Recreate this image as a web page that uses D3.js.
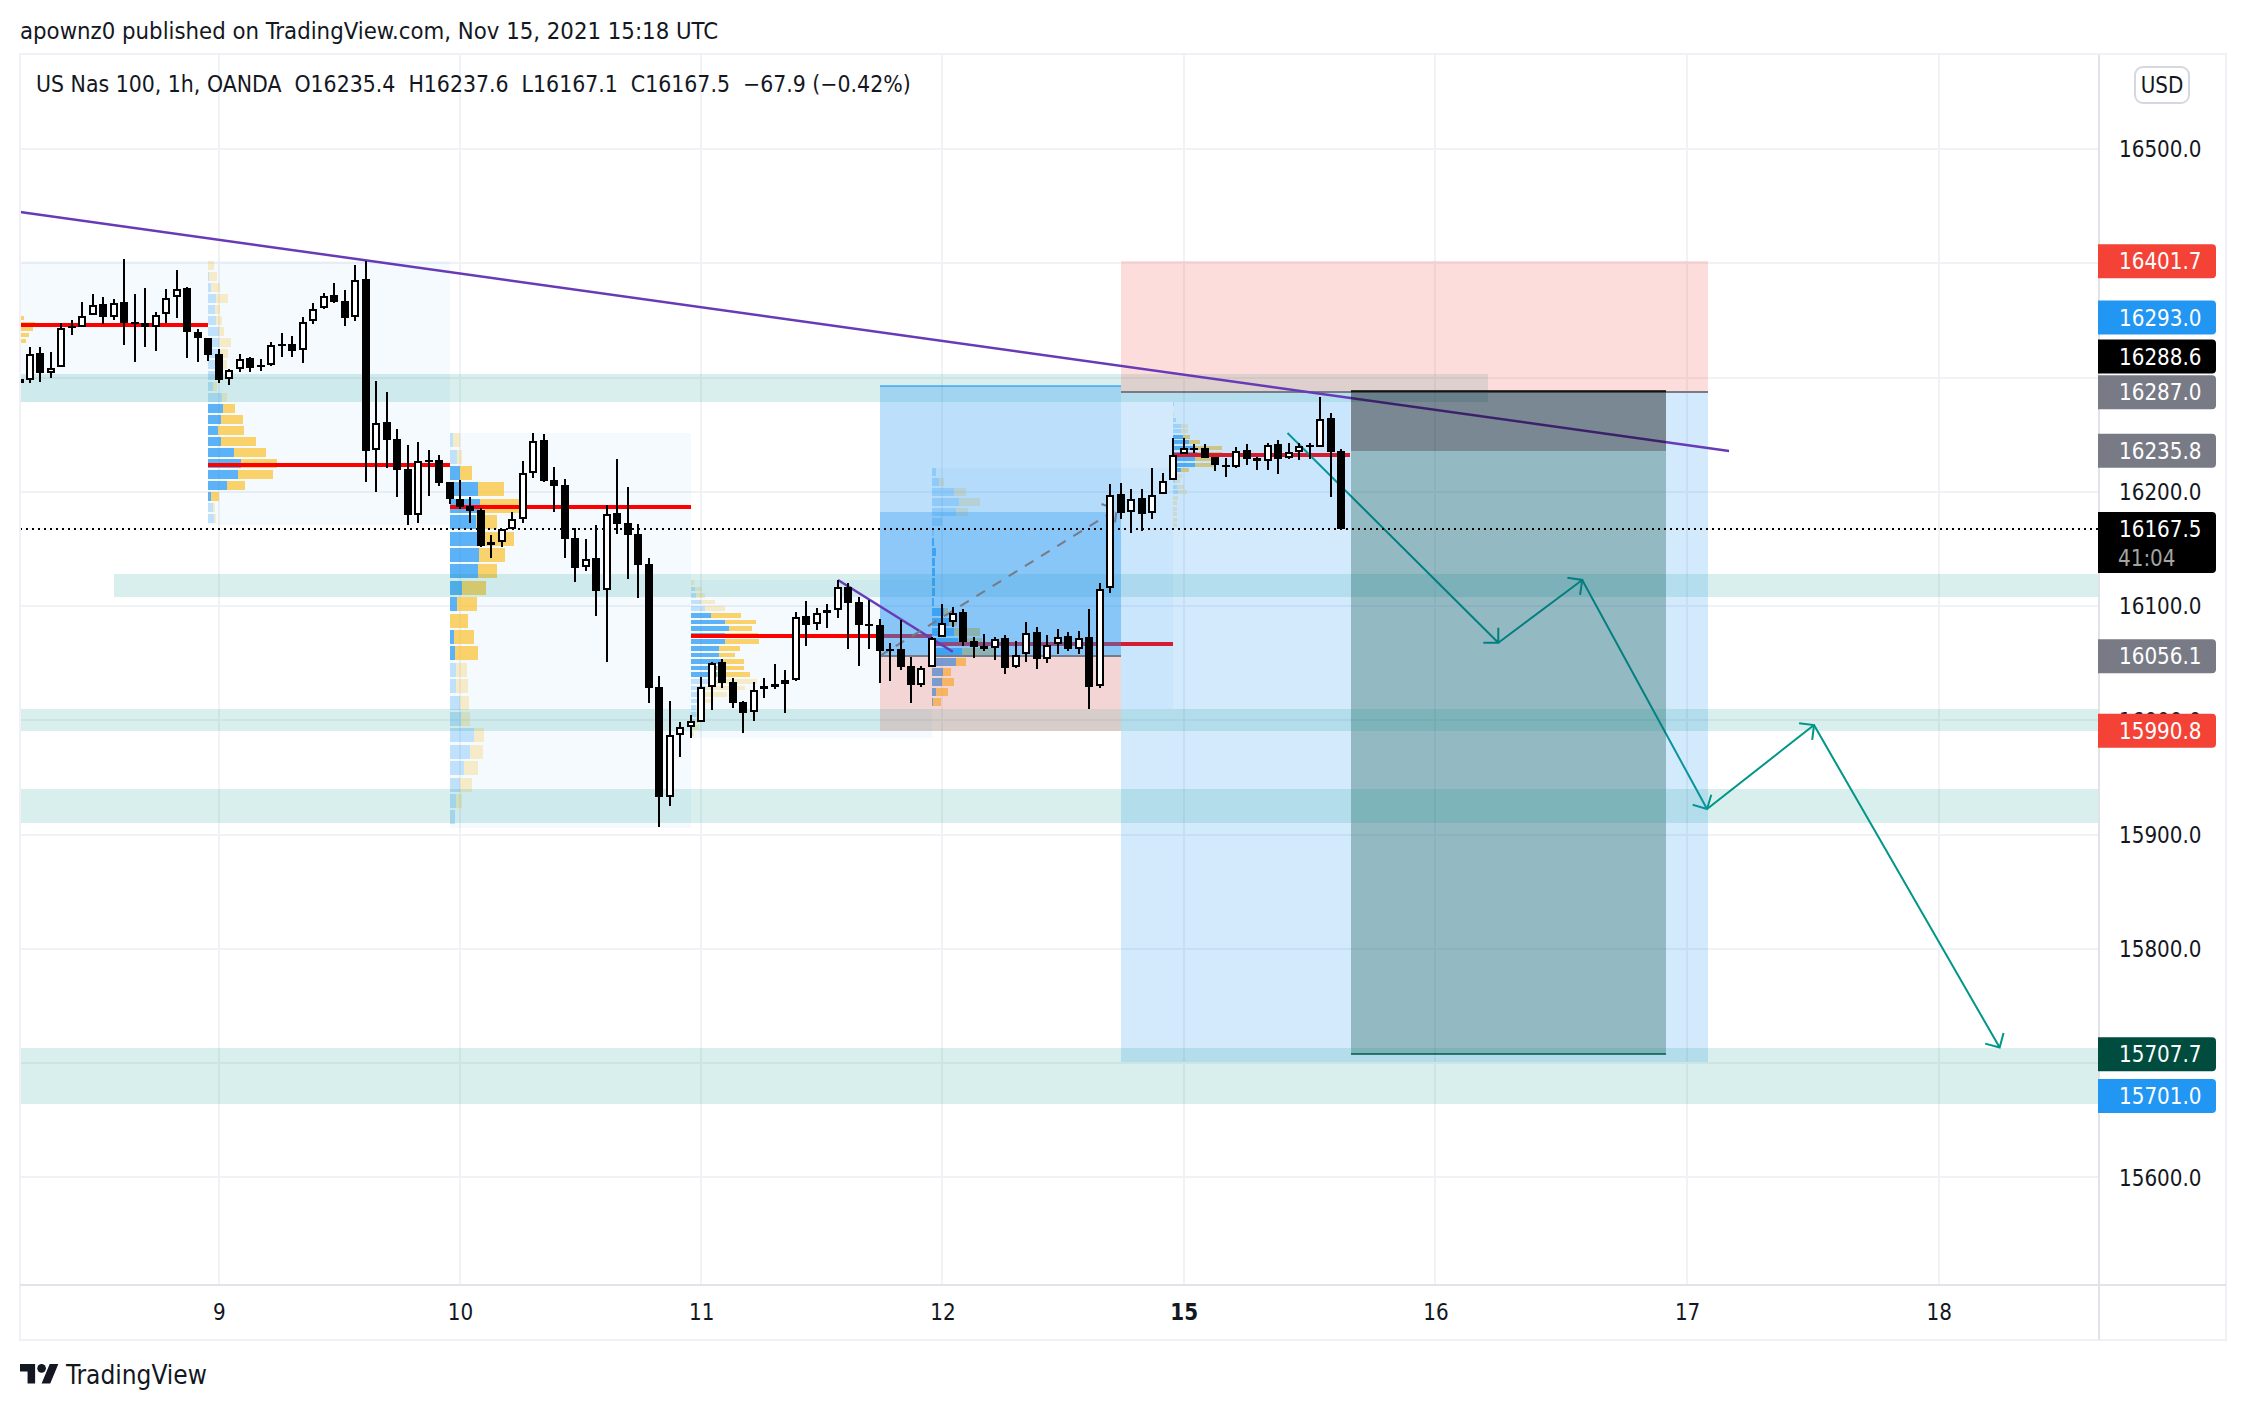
<![CDATA[<!DOCTYPE html>
<html><head><meta charset="utf-8">
<script src="https://cdn.jsdelivr.net/npm/d3@7/dist/d3.min.js"></script>
<style>html,body{margin:0;padding:0;background:#fff}svg{display:block}text{white-space:pre}</style>
</head><body><div id="chart"></div>
<script>
// ---- candle data, first bar is index -1 (clipped by the left edge) ----
const candleOpen=[16299,16297.8,16321.1,16303.6,16308.9,16345.1,16344.5,16354.4,16364.3,16353.2,16365.8,16348.3,16347.4,16343.9,16355.3,16370.2,16378,16339.5,16334.3,16320.3,16298.7,16307.1,16316.8,16310.9,16310.9,16329.3,16329,16324.1,16349.4,16360.8,16371.9,16366.7,16352.7,16385.9,16236.2,16260.8,16245.9,16219.6,16179.3,16228.1,16227.5,16208.2,16193.9,16187.2,16184,16156,16155.7,16167.4,16175.9,16216.1,16245.3,16210.3,16205.6,16159.2,16133.8,16142,16113.7,16181.1,16172.4,16162.7,16136.5,16028.8,15933.1,15986.8,15993.8,15998.8,16028.8,16050.7,16033.2,16015.7,16006.9,16029.7,16031.4,16031.4,16034.9,16091,16083.9,16096.5,16096.5,16116.9,16103.2,16083.9,16083.1,16062.1,16062.1,16047.2,16031.2,16046.4,16072.6,16085.7,16094.5,16069.1,16064.7,16063.3,16071.7,16046.4,16057.7,16077,16053.4,16066.5,16073.5,16062.1,16072.6,16029.7,16115.5,16197.8,16182,16194.3,16181.1,16197.8,16210,16233.1,16238,16238,16230.2,16223.7,16221.4,16236.3,16229.6,16226.9,16241.5,16229.3,16235.1,16240.7,16239.2,16264.3,16235.4];
const candleHigh=[16301,16327,16326.4,16322,16347.4,16350.3,16365.8,16373.1,16370.2,16368.4,16403.7,16373.1,16378.3,16357,16377.2,16394.1,16378.9,16342.2,16334.3,16324.6,16307.4,16320.6,16318.2,16315.9,16330.8,16338.7,16336.3,16352.7,16364.9,16373.7,16382.7,16376.6,16398.5,16402.3,16296.9,16287,16254.9,16240.9,16243.5,16236.5,16232.2,16208.5,16210.3,16195.1,16185.5,16161.9,16167.7,16182,16226.6,16251.1,16250.5,16221.7,16210.9,16168,16158.3,16170.9,16188.1,16228.4,16203.9,16171.5,16141.7,16038.4,16016.6,15998.2,16004.3,16037.6,16050.7,16053.3,16036.7,16016.8,16033.8,16036.7,16048.9,16043.7,16095,16104.1,16098,16101.5,16122.8,16119.8,16108.2,16105.2,16088.3,16067.4,16087.8,16055.1,16047.8,16073.2,16101.8,16098.9,16097.1,16072.6,16075.2,16073.2,16074.4,16069.1,16085.7,16081.7,16074.4,16079.6,16077,16077.9,16097.4,16119.9,16206.8,16207.4,16202.1,16202.1,16220.5,16216.2,16246.8,16246.8,16241.5,16241.5,16230.2,16229.3,16238.9,16241.5,16230.2,16242.4,16245,16242.4,16242.4,16242.4,16282.7,16268.7,16237.6];
const candleLow=[16294,16295.5,16296.3,16299.9,16308.9,16337.2,16344.5,16354.4,16346.8,16350.3,16328.4,16313.6,16327,16323.2,16347.4,16352.1,16317.1,16313.6,16314.7,16295.5,16293.4,16304.8,16304.8,16305.7,16310.4,16318.2,16317.9,16313,16347.1,16360.2,16365.5,16345.1,16349.7,16208.8,16199.8,16221.1,16195.7,16170.9,16172.9,16196.3,16205,16189.3,16185.2,16172.9,16151.9,16142.3,16151.9,16167.4,16172.9,16212.3,16208.8,16182.3,16142.3,16121.3,16130.9,16091.5,16051.3,16163,16123.9,16107.3,16015.4,15906.9,15925.2,15968.1,15984.8,15998.8,16009,16028.5,16011,15989.1,15999.3,16019.8,16027.6,16006.6,16034.6,16065,16079,16080.7,16089.5,16062.4,16047.5,16062.4,16032.9,16034.4,16044,16015.4,16028.8,16046.4,16072.6,16081.9,16065.3,16054.8,16060.9,16053.1,16040.8,16046.1,16051.3,16045.2,16050.4,16058,16060.9,16058,16010.2,16028.6,16111.1,16176.2,16164.2,16166,16176.2,16197.8,16210,16233.1,16233.7,16229.6,16218.2,16212.9,16221.1,16223.4,16219.1,16219.1,16215.6,16228.4,16227.8,16228.7,16239.2,16195.7,16167.1];
const candleClose=[16295,16320.6,16303.6,16308.6,16343.6,16344.2,16353.8,16363.5,16353.2,16365.5,16348,16347.4,16343.9,16354.7,16369.9,16377.5,16339.5,16334.3,16320,16297.8,16306.6,16316.2,16308.6,16309,16328.7,16328.1,16323.5,16348.9,16360,16371.3,16366.4,16352.4,16385.3,16236,16260.5,16245.6,16219.3,16179.3,16227.2,16227.2,16207.9,16193.9,16186.9,16183.4,16152.5,16153.1,16167.1,16175.9,16216.1,16244.7,16209.4,16205.3,16158.9,16133.6,16141.4,16113.1,16180.8,16171.8,16162.1,16136.2,16028.5,15933.1,15986.8,15993.8,15999,16028.8,16050.4,16032.6,16015.4,16006.6,16026.8,16027.1,16029.4,16034.9,16090.7,16083.7,16094.2,16094.2,16116.9,16102.9,16083.7,16083.1,16060.9,16061.2,16046.9,16031.2,16046.1,16072.3,16085.4,16094.2,16068.8,16064.4,16062.7,16071.4,16046.1,16057.4,16076.7,16053.4,16066.2,16073.2,16062.1,16072,16029.4,16115.2,16197.5,16181.7,16194,16180.9,16197.2,16209.7,16232.5,16238.6,16237.2,16229.6,16223.7,16221.4,16236,16229,16226.7,16241.2,16229,16235.1,16240.4,16238.9,16264,16234.5,16167.5];
const firstBar=-1;

// ---- axes ----
const priceGrid=[15600,15700,15800,15900,16000,16100,16200,16300,16400,16500];
const priceTicks=[15600,15800,15900,16000,16100,16200,16500];
const dayTickBars=[18,41,64,87,110,134,158,182];
const dayTickLabels=["9","10","11","12","15","16","17","18"];

// ---- volume profiles: buy and total volume per row, from the top row down ----
const vp1Sell=[2,12,45,39,27,18,2];
const vp2Buy=[0,3,9,24,21,24,33,33,33,21,33,15,42,45,39,30,39,78,99,90,57,9,15,18];
const vp2Total=[18,27,36,60,36,42,48,69,60,57,40,27,57,81,105,108,144,174,207,195,111,33,21,24];
const vp3Buy=[9,21,30,84,90,78,81,87,84,36,21,0,12,15,18,18,30,33,72,60,42,30,18,15];
const vp3Total=[32,36,66,162,207,141,192,165,141,108,81,54,72,84,51,54,57,60,102,99,84,66,36,15];
const vp4Buy=[0,12,15,30,42,60,102,114,102,102,84,84,90,78,78,60,45,30,20,15,15,9,5,0];
const vp4Total=[9,33,42,72,102,150,195,183,201,204,147,132,159,159,177,198,162,108,65,30,25,25,25,9];
const vp5Buy=[12,21,66,81,72,30,6,6,12,9,9,9,9,6,36,50,66,78,90,72,33,30,12,3];
const vp5Total=[12,36,102,144,108,33,6,6,12,9,9,9,9,6,48,75,144,150,190,102,57,66,48,27];
const vp6Buy=[3,0,0,9,24,24,30,48,60,70,66,66,24,12,6,12,15,0,0,0,0,0,0];
const vp6Total=[3,0,3,9,45,45,50,80,146,146,120,125,48,27,21,33,42,15,12,12,12,12,12];
const vpMeta=[
 {b:-2,e:17,hi:16403,top:16359.1,step:5.08,fill:.7,va0:0,va1:6,poc:16346.2,buy:vp1Sell.map(()=>0),total:vp1Sell,lo:16278.6},
 {b:17,e:40,hi:16402,top:16402,step:9.63,fill:.82,va0:13,va1:21,poc:16223.4,buy:vp2Buy,total:vp2Total,lo:16170.9},
 {b:40,e:63,hi:16251.2,top:16251.2,step:14.35,fill:.85,va0:2,va1:13,poc:16186.6,buy:vp3Buy,total:vp3Total,lo:15906},
 {b:63,e:86,hi:16122.8,top:16122.8,step:5.78,fill:.7,va0:5,va1:14,poc:16073.7,buy:vp4Buy,total:vp4Total,lo:15984.5},
 {b:86,e:109,hi:16220.5,top:16220.5,step:8.75,fill:.8,va0:7,va1:23,poc:16066.7,buy:vp5Buy,total:vp5Total,lo:16010},
 {b:109,e:125.9,hi:16278.8,top:16278.8,step:4.84,fill:.72,va0:6,va1:12,poc:16232.2,buy:vp6Buy,total:vp6Total,lo:16167.5}
];
// ---- horizontal zones: the first two lie under the position boxes, the others over them ----
const zoneHigh=[16303,16128,16010.3,15939.8,15713.1];
const zoneLow=[16278.6,16107.9,15990.6,15910.1,15664.1];
const zoneStart=[-2,8,-2,-2,-2];
const zoneEnd=[139,198,198,198,198];
// ---- trend lines and arrow path ----
const trendBars=[[-0.95,162],[77.04,87.98]];
const trendPrices=[[16444.9,16235.7],[16122.8,16060]];
const arrowBars=[119.9,140,148,159.9,170.1,187.8];
const arrowPrices=[16251.4,16067.9,16122.8,15922.3,15995.8,15713.6];
// ---- price labels ----
const lastPrice=16167.5;
const labelValues=[16401.7,16293.0,16288.6,16287.0,16235.8,16056.1,15990.8,15707.7,15701.0];
const labelColors=["#F44336","#2196F3","#000000","#787B86","#787B86","#787B86","#F44336","#004D40","#2196F3"];

// ---- layout ----
const W=2246,H=1410,L=20,T=55,R=2099,B=1285,FR=2226,FB=1340;
const FONT='"DejaVu Sans Condensed","DejaVu Sans",sans-serif';
const FS=22.2;
const x=d3.scaleLinear().domain([0,125]).range([30,1341]);
const y=d3.scaleLinear().domain([15600,16500]).range([1177.3,149]);
const vol=d3.scaleLinear().domain([0,3]).range([0,1]);
const svg=d3.select("#chart").append("svg").attr("width",W).attr("height",H).attr("viewBox",`0 0 ${W} ${H}`);
svg.append("defs").append("clipPath").attr("id","plot").append("rect").attr("x",L).attr("y",T).attr("width",R-L).attr("height",B-T);
const rect=(g,b0,b1,p0,p1,fill)=>g.append("rect").attr("x",x(b0)).attr("width",x(b1)-x(b0)).attr("y",y(p0)).attr("height",y(p1)-y(p0)).attr("fill",fill);

// grid
const grid=svg.append("g").attr("stroke","#F1F2F6").attr("stroke-width",2);
grid.selectAll("line.h").data(priceGrid).join("line").attr("x1",L).attr("x2",R).attr("y1",d=>Math.round(y(d))).attr("y2",d=>Math.round(y(d)));
grid.selectAll("line.v").data(dayTickBars).join("line").attr("y1",T).attr("y2",B).attr("x1",d=>Math.round(x(d))).attr("x2",d=>Math.round(x(d)));

const plot=svg.append("g").attr("clip-path","url(#plot)");

// volume profiles
const vpG=plot.append("g").attr("shape-rendering","crispEdges");
vpMeta.forEach(v=>{ if(v.b>=0) rect(vpG,v.b,v.e,v.hi,v.lo,"rgba(33,150,243,.05)"); });
rect(vpG,-2,17,16402,16278.6,"rgba(33,150,243,.05)");
vpMeta.forEach(v=>{
  const x0=v.b<0?L:x(v.b);
  v.total.forEach((t,k)=>{
    const inVA=k>=v.va0&&k<=v.va1;
    const yT=y(v.top-k*v.step), h=(y(0)-y(v.step))*v.fill;
    const bw=vol(v.buy[k]), tw=vol(t);
    if(bw>0)vpG.append("rect").attr("x",x0).attr("y",yT).attr("width",bw).attr("height",h).attr("fill",inVA?"rgba(33,150,243,.72)":"rgba(33,150,243,.25)");
    if(tw>bw)vpG.append("rect").attr("x",x0+bw).attr("y",yT).attr("width",tw-bw).attr("height",h).attr("fill",inVA?"rgba(251,192,45,.7)":"rgba(251,192,45,.25)");
  });
  vpG.append("rect").attr("x",x0).attr("width",x(v.e)-x0).attr("y",y(v.poc)-2).attr("height",4).attr("fill","#FF0000");
});

const head=(x0,y0,x1,y1,len,ang)=>{
  const a=Math.atan2(y0-y1,x0-x1);
  return `M${x1+len*Math.cos(a+ang)},${y1+len*Math.sin(a+ang)}L${x1},${y1}L${x1+len*Math.cos(a-ang)},${y1+len*Math.sin(a-ang)}`;
};
// teal arrows lie under the zones and positions
const arrows=plot.append("g").attr("fill","none");
d3.pairs(arrowBars.map((b,i)=>[x(b),y(arrowPrices[i])])).forEach(([a,b])=>{
  arrows.append("path").attr("d",`M${a[0]},${a[1]}L${b[0]},${b[1]}`+head(a[0],a[1],b[0],b[1],15,.785)).attr("stroke","#009688").attr("stroke-width",2);
});

// first zones
const z0=plot.append("g").attr("shape-rendering","crispEdges");
[0,1].forEach(i=>rect(z0,zoneStart[i],zoneEnd[i],zoneHigh[i],zoneLow[i],"rgba(0,150,136,.15)"));

// long positions
const pos=plot.append("g").attr("shape-rendering","crispEdges");
rect(pos,104,160,16401.7,16287,"rgba(244,67,54,.18)");
rect(pos,104,160,16287,15701,"rgba(33,150,243,.2)");
rect(pos,81,104,16293,16056.1,"rgba(33,150,243,.3)");
rect(pos,81,104,16182.3,16056.1,"rgba(33,150,243,.3)");
rect(pos,81,104,16056.1,15990.8,"rgba(244,67,54,.2)");
const hline=(g,b0,b1,p,c)=>g.append("rect").attr("x",x(b0)).attr("width",x(b1)-x(b0)).attr("y",y(p)-1).attr("height",2).attr("fill",c);
hline(pos,104,160,16287,"#787B86");
hline(pos,81,104,16056.1,"#787B86");
hline(pos,81,104,16293,"rgba(33,150,243,.6)");

// trend lines and dashed projection
const drawings=plot.append("g").attr("fill","none");
trendBars.forEach((b,i)=>drawings.append("line").attr("x1",x(b[0])).attr("x2",x(b[1])).attr("y1",y(trendPrices[i][0])).attr("y2",y(trendPrices[i][1])).attr("stroke","#673AB7").attr("stroke-width",2.5));
const dash={b:[81,103.6],p:[16056.1,16184.6]};
drawings.append("path").attr("d",`M${x(dash.b[0])},${y(dash.p[0])}L${x(dash.b[1])},${y(dash.p[1])}`+head(x(dash.b[0]),y(dash.p[0]),x(dash.b[1]),y(dash.p[1]),16,.9)).attr("stroke","#787B86").attr("stroke-width",2).attr("stroke-dasharray","10,9");

// short position
const sp=plot.append("g").attr("shape-rendering","crispEdges");
rect(sp,126,156,16288.6,16235.8,"rgba(0,0,0,.42)");
rect(sp,126,156,16235.8,15707.7,"rgba(0,77,64,.3)");
hline(sp,126,156,16288.6,"rgba(0,0,0,.75)");
hline(sp,126,156,15707.7,"rgba(0,77,64,.75)");

// remaining zones
const z1=plot.append("g").attr("shape-rendering","crispEdges");
[2,3,4].forEach(i=>rect(z1,zoneStart[i],zoneEnd[i],zoneHigh[i],zoneLow[i],"rgba(0,150,136,.15)"));

// last price line
plot.append("line").attr("x1",L).attr("x2",R).attr("y1",Math.round(y(lastPrice))).attr("y2",Math.round(y(lastPrice))).attr("stroke","#000").attr("stroke-width",2).attr("stroke-dasharray","2,4");

// candles
const bars=candleOpen.map((o,i)=>({i:i+firstBar,o,h:candleHigh[i],l:candleLow[i],c:candleClose[i]}));
const cg=plot.append("g").attr("shape-rendering","crispEdges");
const cs=cg.selectAll("g").data(bars).join("g");
cs.append("rect").attr("x",d=>Math.round(x(d.i))-1).attr("width",2).attr("y",d=>y(d.h)).attr("height",d=>Math.max(1,y(d.l)-y(d.h))).attr("fill","#000");
cs.append("rect")
 .attr("x",d=>Math.round(x(d.i))-(d.c>=d.o?3:4)).attr("width",d=>d.c>=d.o?6:8)
 .attr("y",d=>y(Math.max(d.o,d.c))+(d.c>=d.o?1:0))
 .attr("height",d=>{const hh=y(Math.min(d.o,d.c))-y(Math.max(d.o,d.c));return d.c>=d.o?Math.max(2,hh-2):Math.max(2,hh);})
 .attr("fill",d=>d.c>=d.o?"#fff":"#000")
 .attr("stroke",d=>d.c>=d.o?"#000":"none").attr("stroke-width",2);

// frame
const fr=svg.append("g").attr("shape-rendering","crispEdges");
fr.append("rect").attr("x",L).attr("y",T-1).attr("width",FR-L).attr("height",FB-T+1).attr("fill","none").attr("stroke","#F0F1F6").attr("stroke-width",2);
fr.append("line").attr("x1",R).attr("x2",R).attr("y1",T).attr("y2",FB).attr("stroke","#E2E3E8").attr("stroke-width",2);
fr.append("line").attr("x1",L).attr("x2",FR).attr("y1",B).attr("y2",B).attr("stroke","#E2E3E8").attr("stroke-width",2);

// axes
const yAxis=svg.append("g").attr("transform",`translate(2119,0)`).call(d3.axisRight(y).tickValues(priceTicks).tickSize(0).tickPadding(0).tickFormat(d3.format(".1f")));
yAxis.select(".domain").remove();
yAxis.selectAll("text").attr("font-family",FONT).attr("font-size",FS).attr("fill","#131722").attr("dy","0.35em");
const xAxis=svg.append("g").attr("transform",`translate(0,${B})`).call(d3.axisBottom(x).tickValues(dayTickBars).tickSize(0).tickPadding(19).tickFormat((d,i)=>dayTickLabels[i]));
xAxis.select(".domain").remove();
xAxis.selectAll("text").attr("font-family",FONT).attr("font-size",FS).attr("fill","#131722").attr("font-weight",(d,i)=>dayTickLabels[i]==="15"?"bold":"normal");

// price labels (stack offsets keep the crowded ones apart)
const labelStack=[0,-2,-1,0,0,0,0,0,1];
const lh=34;
labelValues.forEach((v,i)=>{
  const cy=y(v)+labelStack[i]*lh;
  svg.append("path").attr("d",`M2098,${cy-lh/2}H2212a4,4 0 0 1 4,4V${cy+lh/2-4}a4,4 0 0 1 -4,4H2098Z`).attr("fill",labelColors[i]);
  svg.append("text").attr("x",2119).attr("y",cy+8).attr("font-family",FONT).attr("font-size",FS).attr("fill","#fff").text(d3.format(".1f")(v));
});
const ly=y(lastPrice);
svg.append("path").attr("d",`M2098,${ly-17}H2212a4,4 0 0 1 4,4V${ly+40}a4,4 0 0 1 -4,4H2098Z`).attr("fill","#000");
svg.append("text").attr("x",2119).attr("y",ly+8).attr("font-family",FONT).attr("font-size",FS).attr("fill","#fff").text(d3.format(".1f")(lastPrice));
svg.append("text").attr("x",2118).attr("y",ly+37).attr("font-family",FONT).attr("font-size",FS).attr("fill","#A3A3A3").text("41:04");

// USD button
svg.append("rect").attr("x",2135).attr("y",67).attr("width",54).attr("height",36).attr("rx",8).attr("fill","#fff").attr("stroke","#D6D8E0").attr("stroke-width",2);
svg.append("text").attr("x",2162).attr("y",92.5).attr("text-anchor","middle").attr("font-family",FONT).attr("font-size",FS).attr("fill","#131722").text("USD");

// header texts
svg.append("text").attr("x",20).attr("y",39).attr("font-family",FONT).attr("font-size",23.7).attr("fill","#131722").text("apownz0 published on TradingView.com, Nov 15, 2021 15:18 UTC");
svg.append("text").attr("x",36).attr("y",92).attr("font-family",FONT).attr("font-size",22.8).attr("fill","#131722").text("US Nas 100, 1h, OANDA  O16235.4  H16237.6  L16167.1  C16167.5  −67.9 (−0.42%)");

// logo
const logo=svg.append("g").attr("transform","translate(20,1359.7) scale(1.08)").attr("fill","#131722");
logo.append("path").attr("d","M14 22H7V11H0V4h14v18zM28 22h-8l7.5-18h8L28 22z");
logo.append("circle").attr("cx",20).attr("cy",8).attr("r",4);
svg.append("text").attr("x",66).attr("y",1384).attr("font-family",FONT).attr("font-size",26).attr("fill","#131722").text("TradingView");
</script></body></html>]]>
